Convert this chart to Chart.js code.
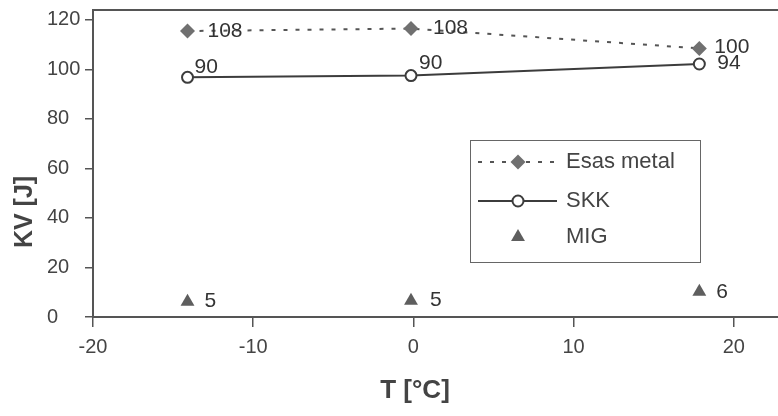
<!DOCTYPE html>
<html>
<head>
<meta charset="utf-8">
<script src="https://cdn.jsdelivr.net/npm/chart.js@4.4.0/dist/chart.umd.min.js"></script>
<style>
    html, body { margin: 0; padding: 0; background: #fff; }
    #caja { position: relative; width: 778px; height: 416px; overflow: hidden; }
</style>
</head>
<body>
<div id="caja"><canvas id="grafica"></canvas></div>
<script>
var TEMPERATURAS = [-14.1, -0.15, 17.85];
var ESAS_METAL = [115.5, 116.5, 108.5];
var SKK = [96.8, 97.5, 102.2];
var MIG = [6.2, 6.6, 10.2];

var TEXTO_ESAS = ['108', '108', '100'];
var TEXTO_SKK = ['90', '90', '94'];
var TEXTO_MIG = ['5', '5', '6'];

var SERIES = ['Esas metal', 'SKK', 'MIG'];
var TICKS_X = [-20, -10, 0, 10, 20];
var TICKS_Y = [0, 20, 40, 60, 80, 100, 120];

(function () {
    var FUENTE = '"Liberation Sans", Arial, sans-serif';
    var GRIS_EJE = '#555';
    var GRIS_TEXTO = '#444';

    // desplazamiento de cada etiqueta respecto a su punto [dx, dy]
    var DESPLAZA = [
        [[20, 0], [22, 0], [15, -1]],
        [[7, -10], [8, -12], [18, -1]],
        [[17, 0], [19, 0], [17, 0]],
    ];
    var TEXTOS = [TEXTO_ESAS, TEXTO_SKK, TEXTO_MIG];

    function puntos(valores) {
        return valores.map(function (v, i) {
            return {x: TEMPERATURAS[i], y: v};
        });
    }

    var estilos = [
        {pointStyle: 'rectRot', radius: 7.5, borderWidth: 0, fill: '#707070', stroke: '#707070'},
        {pointStyle: 'circle', radius: 5.5, borderWidth: 2, fill: '#fff', stroke: '#3c3c3c'},
        {pointStyle: 'triangle', radius: 8, borderWidth: 0, fill: '#5e5e5e', stroke: '#5e5e5e'},
    ];

    var etiquetasPuntos = {
        id: 'etiquetasPuntos',
        afterDatasetsDraw: function (chart) {
            var ctx = chart.ctx;
            ctx.save();
            ctx.font = '21px ' + FUENTE;
            ctx.fillStyle = '#333';
            ctx.textAlign = 'left';
            ctx.textBaseline = 'middle';
            chart.data.datasets.forEach(function (ds, s) {
                chart.getDatasetMeta(s).data.forEach(function (p, i) {
                    var d = DESPLAZA[s][i];
                    ctx.fillText(TEXTOS[s][i], p.x + d[0], p.y + d[1]);
                });
            });
            ctx.restore();
        },
    };

    var marco = {
        id: 'marco',
        afterDraw: function (chart) {
            var ctx = chart.ctx;
            var a = chart.chartArea;
            ctx.save();

            // borde superior del área
            ctx.strokeStyle = GRIS_EJE;
            ctx.lineWidth = 2;
            ctx.beginPath();
            ctx.moveTo(a.left - 1, a.top);
            ctx.lineTo(a.right, a.top);
            ctx.stroke();

            // títulos de ejes
            ctx.fillStyle = GRIS_TEXTO;
            ctx.textAlign = 'center';
            ctx.textBaseline = 'middle';
            ctx.font = 'bold 26px ' + FUENTE;
            ctx.fillText('T [°C]', 415, 391);
            ctx.save();
            ctx.translate(25, 212);
            ctx.rotate(-Math.PI / 2);
            ctx.font = 'bold 25px ' + FUENTE;
            ctx.fillText('KV [J]', 0, 0);
            ctx.restore();

            // leyenda
            ctx.strokeStyle = '#666';
            ctx.lineWidth = 1;
            ctx.strokeRect(470.5, 140.5, 230, 122);

            var filas = [162, 201, 237];
            ctx.font = '22px ' + FUENTE;
            ctx.textAlign = 'left';
            SERIES.forEach(function (nombre, s) {
                var y = filas[s];
                var ds = chart.data.datasets[s];
                if (ds.showLine !== false) {
                    ctx.save();
                    ctx.strokeStyle = ds.borderColor;
                    ctx.lineWidth = ds.borderWidth;
                    ctx.setLineDash(ds.borderDash || []);
                    ctx.beginPath();
                    ctx.moveTo(478, y);
                    ctx.lineTo(557, y);
                    ctx.stroke();
                    ctx.restore();
                }
                var e = estilos[s];
                ctx.save();
                ctx.fillStyle = e.fill;
                ctx.strokeStyle = e.stroke;
                ctx.lineWidth = e.borderWidth;
                Chart.helpers.drawPoint(ctx, {
                    pointStyle: e.pointStyle, radius: e.radius, rotation: 0, borderWidth: e.borderWidth,
                }, 518, y);
                ctx.restore();
                ctx.fillStyle = GRIS_TEXTO;
                ctx.fillText(nombre, 566, y);
            });

            ctx.restore();
        },
    };

    function serie(nombre, valores, e, linea) {
        return Object.assign({
            label: nombre,
            data: puntos(valores),
            pointStyle: e.pointStyle,
            pointRadius: e.radius,
            pointHoverRadius: e.radius,
            pointBackgroundColor: e.fill,
            pointBorderColor: e.stroke,
            pointBorderWidth: e.borderWidth,
            fill: false,
            tension: 0,
        }, linea);
    }

    new Chart(document.getElementById('grafica'), {
        type: 'line',
        data: {
            datasets: [
                serie(SERIES[0], ESAS_METAL, estilos[0], {borderColor: '#555', borderWidth: 2, borderDash: [4, 8]}),
                serie(SERIES[1], SKK, estilos[1], {borderColor: '#3c3c3c', borderWidth: 2}),
                serie(SERIES[2], MIG, estilos[2], {showLine: false, borderColor: '#5e5e5e'}),
            ],
        },
        options: {
            responsive: true,
            maintainAspectRatio: false,
            animation: false,
            layout: {autoPadding: false, padding: {left: 47, top: 10, right: 0, bottom: 0}},
            plugins: {legend: {display: false}, tooltip: {enabled: false}},
            scales: {
                x: {
                    type: 'linear',
                    min: -20,
                    max: 22.76,
                    afterBuildTicks: function (sc) {
                        sc.ticks = TICKS_X.map(function (v) { return {value: v}; });
                    },
                    afterFit: function (sc) {
                        sc.height = 99;
                        sc.paddingLeft = 0;
                        sc.paddingRight = 0;
                    },
                    grid: {drawOnChartArea: false, drawTicks: true, tickLength: 10, color: GRIS_EJE, lineWidth: 1.5},
                    border: {display: true, color: GRIS_EJE, width: 2},
                    ticks: {color: GRIS_TEXTO, font: {family: FUENTE, size: 20}, padding: 8, maxRotation: 0},
                },
                y: {
                    min: 0,
                    max: 124,
                    afterBuildTicks: function (sc) {
                        sc.ticks = TICKS_Y.map(function (v) { return {value: v}; });
                    },
                    afterFit: function (sc) {
                        sc.width = 46;
                        sc.paddingTop = 0;
                        sc.paddingBottom = 0;
                    },
                    grid: {drawOnChartArea: false, drawTicks: true, tickLength: 8, color: GRIS_EJE, lineWidth: 1.5},
                    border: {display: true, color: GRIS_EJE, width: 2},
                    ticks: {color: GRIS_TEXTO, font: {family: FUENTE, size: 20}, crossAlign: 'far', padding: 14},
                },
            },
        },
        plugins: [etiquetasPuntos, marco],
    });
})();
</script>
</body>
</html>
